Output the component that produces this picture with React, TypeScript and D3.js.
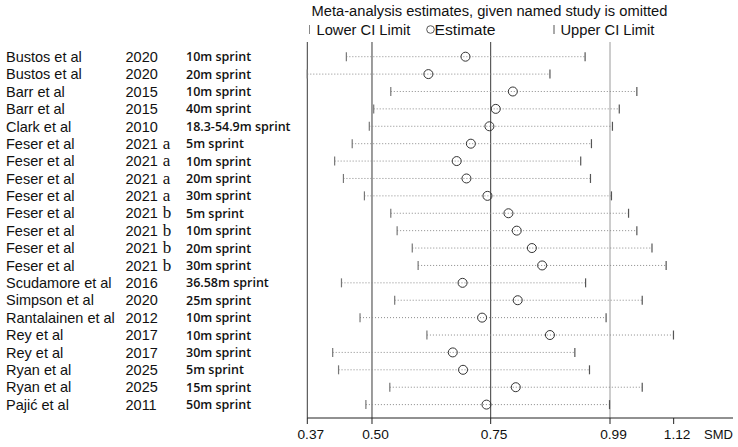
import * as d3 from "d3";

const authors = [
  "Bustos et al", "Bustos et al", "Barr et al", "Barr et al", "Clark et al",
  "Feser et al", "Feser et al", "Feser et al", "Feser et al",
  "Feser et al", "Feser et al", "Feser et al", "Feser et al",
  "Scudamore et al", "Simpson et al", "Rantalainen et al", "Rey et al", "Rey et al",
  "Ryan et al", "Ryan et al", "Pajić et al",
];
const years = [
  "2020", "2020", "2015", "2015", "2010",
  "2021", "2021", "2021", "2021",
  "2021", "2021", "2021", "2021",
  "2016", "2020", "2012", "2017", "2017",
  "2025", "2025", "2011",
];
const yearSuffix = [
  "", "", "", "", "",
  "a", "a", "a", "a",
  "b", "b", "b", "b",
  "", "", "", "", "", "", "", "",
];
const outcomes = [
  "10m sprint", "20m sprint", "10m sprint", "40m sprint", "18.3-54.9m sprint",
  "5m sprint", "10m sprint", "20m sprint", "30m sprint",
  "5m sprint", "10m sprint", "20m sprint", "30m sprint",
  "36.58m sprint", "25m sprint", "10m sprint", "10m sprint", "30m sprint",
  "5m sprint", "15m sprint", "50m sprint",
];
const lowerCI = [
  0.45, 0.37, 0.541, 0.506, 0.497, 0.462, 0.426, 0.444, 0.487, 0.541, 0.554,
  0.585, 0.597, 0.44, 0.549, 0.478, 0.615, 0.422, 0.434, 0.539, 0.49,
];
const estimates = [
  0.694, 0.618, 0.791, 0.756, 0.743, 0.705, 0.676, 0.696, 0.739, 0.782, 0.799,
  0.83, 0.851, 0.688, 0.801, 0.728, 0.867, 0.668, 0.689, 0.797, 0.737,
];
const upperCI = [
  0.939, 0.867, 1.045, 1.009, 0.995, 0.952, 0.93, 0.95, 0.993, 1.028, 1.045,
  1.076, 1.105, 0.94, 1.056, 0.982, 1.12, 0.918, 0.948, 1.056, 0.989,
];
const tickValues = [0.37, 0.5025, 0.7456, 0.99, 1.1204];
const refLines = [0.37, 0.5025, 0.7456, 0.99];

const width = 738;
const height = 447;
const plotTop = 42;
const axisY = 418;

const x = d3.scaleLinear().domain([0.37, 0.99]).range([307.3, 610]);
const y = d3
  .scalePoint<number>()
  .domain(d3.range(authors.length))
  .range([56.7, 404.6]);

const sans = "'Liberation Sans', Arial, sans-serif";

export default function App() {
  const xEnd = 733;
  return (
    <svg
      width={width}
      height={height}
      viewBox={`0 0 ${width} ${height}`}
      style={{ position: "absolute", left: 0, top: 0, background: "#fff" }}
    >
      <rect width={width} height={height} fill="#fff" />

      {/* header + legend */}
      <text x={311.5} y={16} fontFamily={sans} fontSize={14.7} fill="#111">
        Meta-analysis estimates, given named study is omitted
      </text>
      <g fontFamily={sans} fontSize={14.7} fill="#111">
        <line x1={309.5} x2={309.5} y1={25} y2={34} stroke="#888" />
        <text x={316.5} y={34.5}>Lower CI Limit</text>
        <circle cx={430.5} cy={29.5} r={3.8} fill="none" stroke="#555" />
        <text x={434.5} y={34.5} textLength={61} lengthAdjust="spacingAndGlyphs">Estimate</text>
        <line x1={554} x2={554} y1={25} y2={34} stroke="#555" />
        <text x={560.5} y={34.5}>Upper CI Limit</text>
      </g>

      {/* reference lines */}
      {refLines.map((v, i) => (
        <line
          key={`ref-${i}`}
          x1={x(v)}
          x2={x(v)}
          y1={plotTop}
          y2={axisY}
          stroke={i === 3 ? "#9a9a9a" : "#3a3a3a"}
          strokeWidth={1}
        />
      ))}

      {/* study rows */}
      {authors.map((author, i) => {
        const cy = y(i) ?? 0;
        return (
          <g key={`row-${i}`}>
            <text x={6} y={cy} dy="0.36em" fontFamily={sans} fontSize={14.5} fill="#111">
              {author}
            </text>
            <text x={125.5} y={cy} dy="0.36em" fontFamily={sans} fontSize={14.5} fill="#111">
              {years[i]}
              {yearSuffix[i] ? (
                <tspan dx={5} fontFamily="'Liberation Serif', 'Times New Roman', serif" fontSize={17}>
                  {yearSuffix[i]}
                </tspan>
              ) : null}
            </text>
            <text
              x={186}
              y={cy}
              dy="0.36em"
              fontFamily="'Open Sans', 'Noto Sans', sans-serif"
              fontWeight={600}
              fontSize={12.5}
              fill="#111"
            >
              {outcomes[i]}
            </text>

            <line
              x1={x(lowerCI[i])}
              x2={x(upperCI[i])}
              y1={cy}
              y2={cy}
              stroke="#8a8a8a"
              strokeWidth={1}
              strokeDasharray="1 2"
            />
            <line x1={x(lowerCI[i])} x2={x(lowerCI[i])} y1={cy - 4.5} y2={cy + 4.5} stroke="#777" strokeWidth={1.2} />
            <line x1={x(upperCI[i])} x2={x(upperCI[i])} y1={cy - 4.5} y2={cy + 4.5} stroke="#555" strokeWidth={1.2} />
            <circle cx={x(estimates[i])} cy={cy} r={4.5} fill="none" stroke="#333" strokeWidth={1} />
          </g>
        );
      })}

      {/* x axis */}
      <line x1={x(0.37)} x2={xEnd} y1={axisY} y2={axisY} stroke="#222" />
      {tickValues.map((v, i) => (
        <g key={`tick-${i}`}>
          <line x1={x(v)} x2={x(v)} y1={axisY} y2={axisY + 6} stroke="#222" />
          <text
            x={x(v) + 3.5}
            y={438.5}
            textAnchor="middle"
            fontFamily={sans}
            fontSize={13.7}
            fill="#111"
          >
            {d3.format(".2f")(v)}
          </text>
        </g>
      ))}
      <text x={704} y={438.5} fontFamily={sans} fontSize={13} fill="#111">
        SMD
      </text>
    </svg>
  );
}
